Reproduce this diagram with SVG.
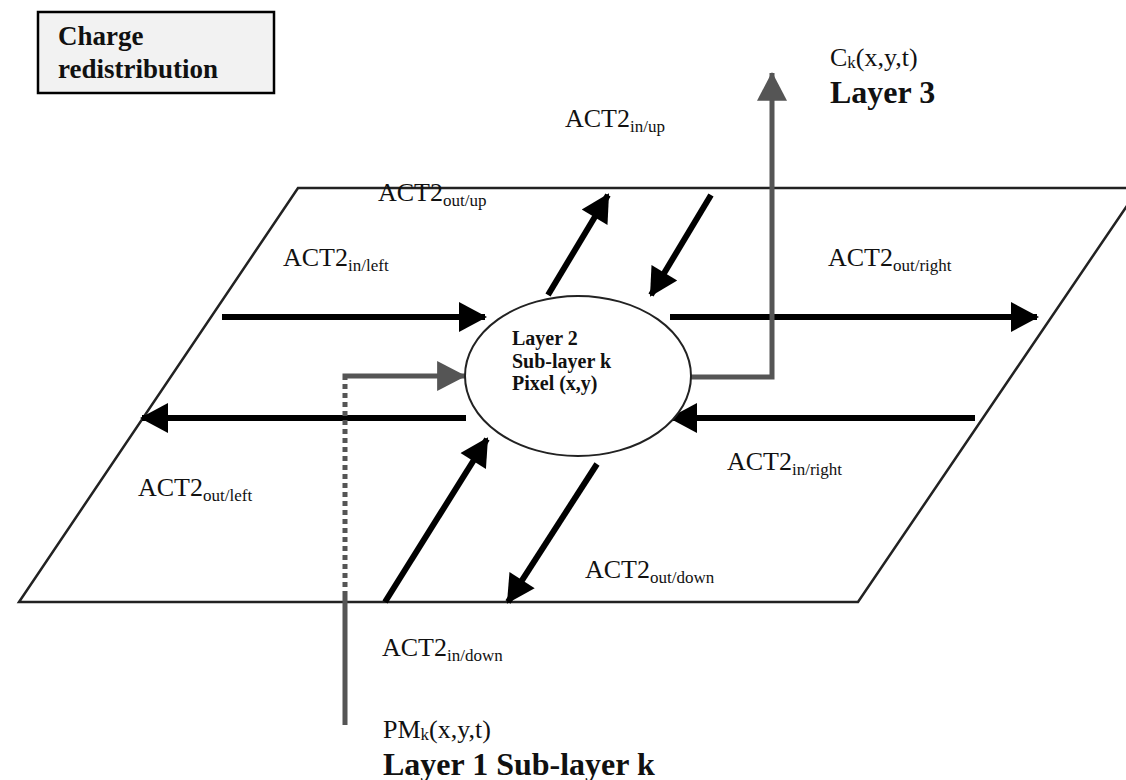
<svg xmlns="http://www.w3.org/2000/svg" width="1126" height="780" viewBox="0 0 1126 780">
<style>
.lbl{font-family:"Liberation Serif","Times New Roman",serif;font-size:26px;fill:#111}
.sub{font-size:17px}
.bold{font-family:"Liberation Serif","Times New Roman",serif;font-weight:bold;fill:#111}
.blk{stroke:#000;stroke-width:6;fill:none}
.gry{stroke:#555;stroke-width:5;fill:none}
</style>
<defs>
<marker id="ab" markerUnits="userSpaceOnUse" markerWidth="30" markerHeight="30" viewBox="0 0 28 30" refX="26" refY="15" orient="auto"><path d="M0,0 L28,15 L0,30 Z" fill="#000"/></marker>
<marker id="ag" markerUnits="userSpaceOnUse" markerWidth="30" markerHeight="30" viewBox="0 0 28 28" refX="26" refY="14" orient="auto"><path d="M0,0 L27,14 L0,28 Z" fill="#555"/></marker>
</defs>
<rect width="1126" height="780" fill="#fff"/>
<g id="title">
<rect x="38" y="12" width="236" height="81" fill="#f2f2f2" stroke="#000" stroke-width="2.5"/>
<text class="bold" x="58" y="45" font-size="27">Charge</text>
<text class="bold" x="58" y="78" font-size="27">redistribution</text>
</g>
<g id="plane">
<polygon points="298,188 1139,188 858,602 19,602" fill="none" stroke="#222" stroke-width="2.5"/>
</g>
<g id="connectors">
<line class="blk" x1="222" y1="317" x2="485" y2="317" marker-end="url(#ab)"/>
<line class="blk" x1="466" y1="418" x2="142" y2="418" marker-end="url(#ab)"/>
<line class="blk" x1="670" y1="317" x2="1037" y2="317" marker-end="url(#ab)"/>
<line class="blk" x1="975" y1="418" x2="671" y2="418" marker-end="url(#ab)"/>
<line class="blk" x1="548" y1="295" x2="608" y2="195" marker-end="url(#ab)"/>
<line class="blk" x1="711" y1="195" x2="651" y2="295" marker-end="url(#ab)"/>
<line class="blk" x1="385" y1="602" x2="487" y2="439" marker-end="url(#ab)"/>
<line class="blk" x1="597" y1="464" x2="508" y2="602" marker-end="url(#ab)"/>
<polyline class="gry" points="691,377 772,377 772,73" marker-end="url(#ag)"/>
<line class="gry" x1="345" y1="725" x2="345" y2="596"/>
<line class="gry" x1="345" y1="596" x2="345" y2="380" stroke-dasharray="5,4"/>
<polyline class="gry" points="345,380 345,376 465,376" marker-end="url(#ag)"/>
</g>
<g id="pixel">
<ellipse cx="578" cy="376" rx="113" ry="80" fill="#fff" stroke="#222" stroke-width="2"/>
<text class="bold" x="512" y="345" font-size="20">Layer 2</text>
<text class="bold" x="512" y="368" font-size="20">Sub-layer k</text>
<text class="bold" x="512" y="390" font-size="20">Pixel (x,y)</text>
</g>
<g id="labels">
<text class="lbl" x="565" y="127">ACT2<tspan class="sub" dy="5">in/up</tspan></text>
<text class="lbl" x="378" y="201">ACT2<tspan class="sub" dy="5">out/up</tspan></text>
<text class="lbl" x="283" y="266">ACT2<tspan class="sub" dy="5">in/left</tspan></text>
<text class="lbl" x="828" y="266">ACT2<tspan class="sub" dy="5">out/right</tspan></text>
<text class="lbl" x="727" y="470">ACT2<tspan class="sub" dy="5">in/right</tspan></text>
<text class="lbl" x="138" y="496">ACT2<tspan class="sub" dy="5">out/left</tspan></text>
<text class="lbl" x="585" y="578">ACT2<tspan class="sub" dy="5">out/down</tspan></text>
<text class="lbl" x="382" y="656">ACT2<tspan class="sub" dy="5">in/down</tspan></text>
</g>
<g id="layer3">
<text class="lbl" x="830" y="66">C<tspan class="sub" dy="2">k</tspan><tspan dy="-2">(x,y,t)</tspan></text>
<text class="bold" x="830" y="103" font-size="32">Layer 3</text>
</g>
<g id="layer1">
<text class="lbl" x="383" y="738">PM<tspan class="sub" dy="2">k</tspan><tspan dy="-2">(x,y,t)</tspan></text>
<text class="bold" x="383" y="775" font-size="32">Layer 1 Sub-layer k</text>
</g>
</svg>
